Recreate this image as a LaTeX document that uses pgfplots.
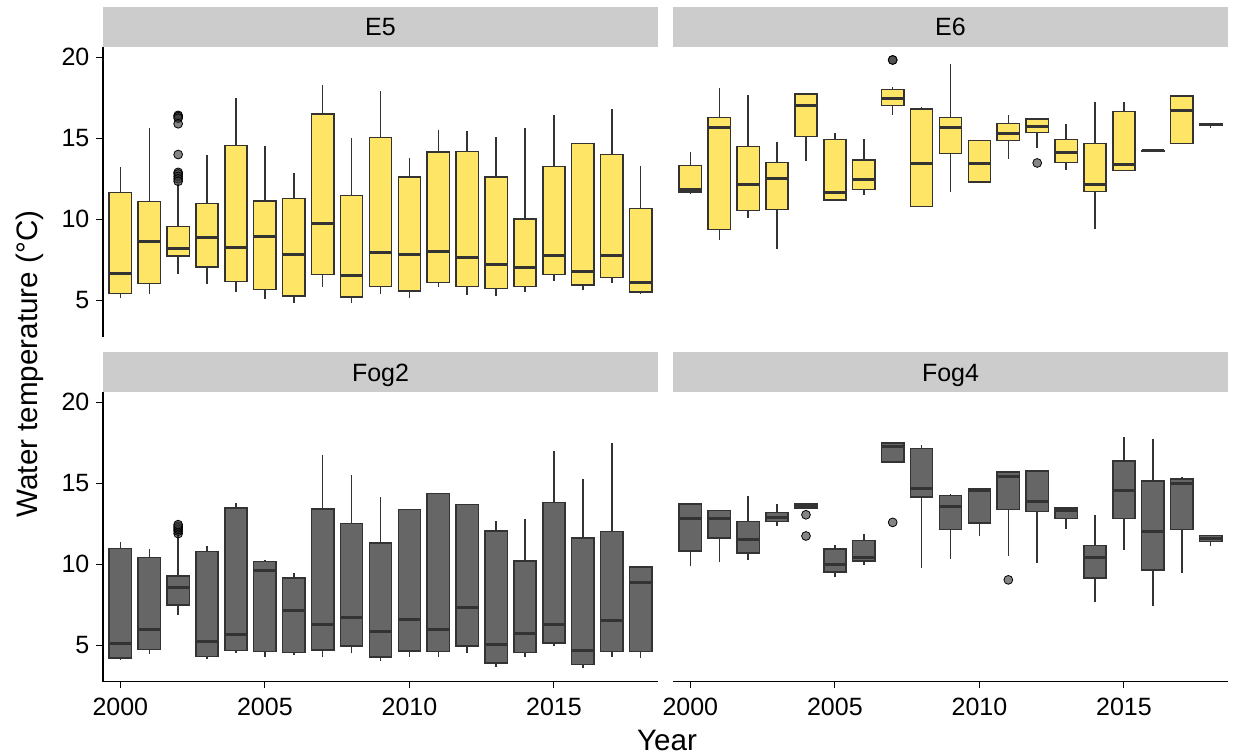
\documentclass[border=0pt]{standalone}
\usepackage{pgfplots}
\pgfplotsset{compat=1.18}
\usepgfplotslibrary{statistics}
\usepackage{fontspec}
\setmainfont{Liberation Sans}
\definecolor{yfill}{HTML}{FFE566}
\definecolor{gfill}{HTML}{666666}
\definecolor{outl}{HTML}{333333}
\definecolor{strip}{HTML}{CCCCCC}
\pgfplotsset{
  panel/.style={scale only axis, width=277.5pt, height=145pt,
    xmin=-0.6, xmax=18.6, ymin=2.75, ymax=20.66,
    xtick={0,5,10,15}, xticklabels={2000,2005,2010,2015}, ytick={5,10,15,20},
    /pgf/number format/assume math mode=true,
    tick label style={font=\fontsize{12.5}{14}\selectfont, black},
    xticklabel style={yshift=-1.5pt},
    tick align=outside, major tick length=3.3pt,
    tick style={black, line width=0.5pt},
    axis line style={black, line width=0.6pt},
    clip=false},
  boxplot/every median/.style={line width=1.5pt},
  boxplot/every whisker/.style={line width=0.75pt},
}
% \bx{year index (0 = 2000)}{lower whisker}{Q1}{median}{Q3}{upper whisker}
\newcommand{\bx}[6]{\addplot[bstyle, boxplot prepared={draw direction=y, draw position=#1, lower whisker=#2, lower quartile=#3, median=#4, upper quartile=#5, upper whisker=#6, box extend=0.77, whisker extend=0}] coordinates {};}
\newcommand{\outl}[1]{\addplot[only marks, mark=*, mark size=2.2pt, mark options={fill=outl, draw=none, fill opacity=0.6}] coordinates {#1};}
\begin{document}
\begin{tikzpicture}
\path[use as bounding box] (0,0) rectangle (616.5pt,-377.5pt);
% strips
\fill[strip] (51.5pt,-3.5pt) rectangle (329pt,-23.35pt);
\fill[strip] (336.5pt,-3.5pt) rectangle (614pt,-23.35pt);
\fill[strip] (51.5pt,-176.15pt) rectangle (329pt,-195.85pt);
\fill[strip] (336.5pt,-176.15pt) rectangle (614pt,-195.85pt);
\node[font=\fontsize{12.5}{14}\selectfont, anchor=base, inner sep=0pt] at (190.25pt,-17.5pt) {E5};
\node[font=\fontsize{12.5}{14}\selectfont, anchor=base, inner sep=0pt] at (475.25pt,-17.5pt) {E6};
\node[font=\fontsize{12.5}{14}\selectfont, anchor=base, inner sep=0pt] at (190.25pt,-190.6pt) {Fog2};
\node[font=\fontsize{12.5}{14}\selectfont, anchor=base, inner sep=0pt] at (475.25pt,-190.6pt) {Fog4};
% E5
\begin{axis}[panel, at={(51.5pt,-23.35pt)}, anchor=north west,
  axis y line*=left, axis x line=none,
  bstyle/.style={fill=yfill, draw=outl, line width=0.75pt}]
\bx{0}{5.16}{5.41}{6.67}{11.67}{13.21}
\bx{1}{5.39}{6.05}{8.60}{11.11}{15.64}
\bx{2}{6.63}{7.74}{8.19}{9.55}{12.2}
\bx{3}{5.99}{7.04}{8.89}{10.97}{13.95}
\bx{4}{5.51}{6.15}{8.27}{14.57}{17.51}
\bx{5}{5.10}{5.68}{8.93}{11.13}{14.53}
\bx{6}{4.86}{5.27}{7.82}{11.30}{12.86}
\bx{7}{5.84}{6.60}{9.77}{16.50}{18.31}
\bx{8}{4.86}{5.21}{6.54}{11.46}{15.02}
\bx{9}{5.37}{5.84}{7.94}{15.04}{17.90}
\bx{10}{5.16}{5.56}{7.82}{12.61}{13.79}
\bx{11}{5.80}{6.11}{8.00}{14.16}{15.51}
\bx{12}{5.33}{5.86}{7.65}{14.18}{15.47}
\bx{13}{5.27}{5.72}{7.18}{12.61}{15.08}
\bx{14}{5.51}{5.84}{7.04}{10.02}{15.62}
\bx{15}{6.21}{6.60}{7.78}{13.27}{16.42}
\bx{16}{5.62}{5.95}{6.77}{14.67}{14.67}
\bx{17}{6.09}{6.40}{7.78}{14.01}{16.81}
\bx{18}{5.39}{5.51}{6.07}{10.68}{13.29}
\outl{(2,16.42) (2,16.35) (2,16.25) (2,15.9) (2,14.0) (2,12.9) (2,12.8) (2,12.65) (2,12.5) (2,12.35)}
\end{axis}
% E6
\begin{axis}[panel, at={(336.5pt,-23.35pt)}, anchor=north west,
  axis lines=none,
  bstyle/.style={fill=yfill, draw=outl, line width=0.75pt}]
\bx{0}{11.56}{11.69}{11.87}{13.33}{14.16}
\bx{1}{8.72}{9.36}{15.70}{16.30}{18.13}
\bx{2}{10.06}{10.53}{12.16}{14.51}{17.70}
\bx{3}{8.19}{10.62}{12.49}{13.52}{14.75}
\bx{4}{13.58}{15.10}{17.02}{17.74}{17.76}
\bx{5}{11.19}{11.19}{11.65}{14.94}{15.35}
\bx{6}{11.50}{11.85}{12.43}{13.66}{14.94}
\bx{7}{16.42}{17.02}{17.49}{18.02}{18.15}
\bx{8}{10.78}{10.78}{13.46}{16.81}{16.95}
\bx{9}{11.69}{14.07}{15.66}{16.30}{19.59}
\bx{10}{12.30}{12.30}{13.46}{14.88}{14.88}
\bx{11}{13.72}{14.88}{15.27}{15.93}{16.42}
\bx{12}{14.42}{15.35}{15.76}{16.21}{16.26}
\bx{13}{13.05}{13.50}{14.12}{14.94}{15.88}
\bx{14}{9.42}{11.71}{12.16}{14.69}{17.24}
\bx{15}{13.00}{13.00}{13.37}{16.65}{17.26}
\bx{16}{14.22}{14.22}{14.24}{14.26}{14.26}
\bx{17}{14.69}{14.69}{16.73}{17.61}{17.61}
\bx{18}{15.66}{15.80}{15.84}{15.88}{15.88}
\outl{(7,19.84) (7,19.84) (12,13.48)}
\end{axis}
% Fog2
\begin{axis}[panel, at={(51.5pt,-195.85pt)}, anchor=north west,
  axis lines*=left,
  bstyle/.style={fill=gfill, draw=outl, line width=0.75pt}]
\bx{0}{4.09}{4.20}{5.14}{10.99}{11.38}
\bx{1}{4.46}{4.73}{6.00}{10.41}{10.93}
\bx{2}{6.90}{7.50}{8.57}{9.27}{11.75}
\bx{3}{4.15}{4.30}{5.26}{10.78}{11.13}
\bx{4}{4.52}{4.67}{5.67}{13.49}{13.80}
\bx{5}{4.26}{4.63}{9.61}{10.17}{10.27}
\bx{6}{4.40}{4.56}{7.13}{9.14}{9.49}
\bx{7}{4.26}{4.71}{6.29}{13.43}{16.78}
\bx{8}{4.50}{4.95}{6.70}{12.51}{15.50}
\bx{9}{4.05}{4.28}{5.84}{11.32}{14.17}
\bx{10}{4.30}{4.65}{6.62}{13.39}{13.39}
\bx{11}{4.26}{4.61}{6.00}{14.38}{14.38}
\bx{12}{4.52}{4.95}{7.32}{13.70}{13.70}
\bx{13}{3.68}{3.91}{5.06}{12.06}{12.69}
\bx{14}{4.26}{4.56}{5.73}{10.19}{12.78}
\bx{15}{4.93}{5.14}{6.27}{13.82}{17.02}
\bx{16}{3.60}{3.81}{4.69}{11.61}{15.28}
\bx{17}{4.30}{4.63}{6.51}{12.02}{17.52}
\bx{18}{4.21}{4.63}{8.85}{9.84}{9.84}
\outl{(2,11.9) (2,12.05) (2,12.15) (2,12.25) (2,12.35) (2,12.45)}
\end{axis}
% Fog4
\begin{axis}[panel, at={(336.5pt,-195.85pt)}, anchor=north west,
  axis x line*=bottom, axis y line=none,
  bstyle/.style={fill=gfill, draw=outl, line width=0.75pt}]
\bx{0}{9.88}{10.82}{12.84}{13.74}{13.74}
\bx{1}{10.17}{11.61}{12.84}{13.33}{13.37}
\bx{2}{10.25}{10.70}{11.54}{12.63}{14.21}
\bx{3}{12.36}{12.65}{12.88}{13.19}{13.72}
\bx{4}{13.49}{13.49}{13.60}{13.74}{13.74}
\bx{5}{9.21}{9.53}{10.00}{10.95}{11.19}
\bx{6}{9.94}{10.19}{10.41}{11.48}{11.87}
\bx{7}{16.31}{16.31}{17.25}{17.50}{17.50}
\bx{8}{9.80}{14.15}{14.68}{17.15}{17.37}
\bx{9}{10.35}{12.16}{13.60}{14.25}{14.36}
\bx{10}{11.75}{12.55}{14.56}{14.66}{14.66}
\bx{11}{10.50}{13.39}{15.44}{15.71}{15.71}
\bx{12}{10.10}{13.26}{13.86}{15.77}{15.83}
\bx{13}{12.18}{12.84}{13.35}{13.49}{13.49}
\bx{14}{7.70}{9.16}{10.39}{11.17}{13.04}
\bx{15}{10.89}{12.82}{14.56}{16.37}{17.84}
\bx{16}{7.44}{9.66}{12.00}{15.16}{17.74}
\bx{17}{9.49}{12.16}{14.99}{15.28}{15.40}
\bx{18}{11.13}{11.40}{11.61}{11.77}{11.77}
\outl{(4,13.06) (4,11.75) (7,12.59) (11,9.04)}
\end{axis}
\node[rotate=90, font=\fontsize{14.8}{16}\selectfont] at (15pt,-182pt) {Water temperature (°C)};
\node[font=\fontsize{14.8}{16}\selectfont] at (333.5pt,-370pt) {Year};
\end{tikzpicture}
\end{document}
